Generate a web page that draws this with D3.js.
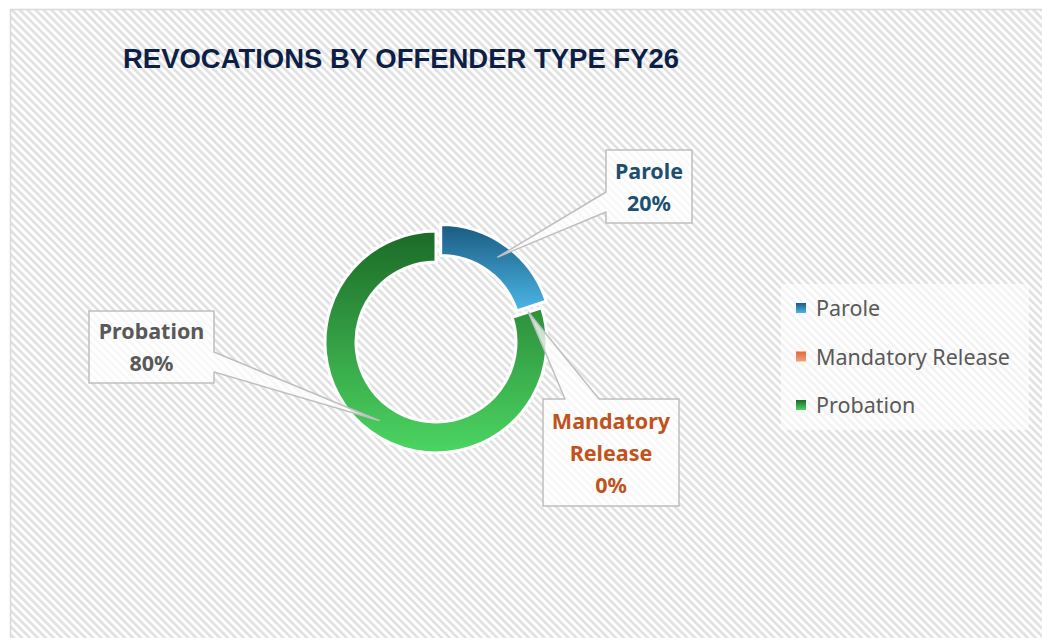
<!DOCTYPE html>
<html lang="en">
  <head>
    <meta charset="UTF-8" />
    <title>Revocations by Offender Type FY26</title>
    <style>
      body { margin: 0; background: #fff; }
      svg { display: block; }
    </style>
  </head>
  <body>
    <svg width="1042" height="638"></svg>

    <script src="https://cdn.jsdelivr.net/npm/d3@7/dist/d3.min.js"></script>
    <script>
      const categories = ["Parole", "Mandatory Release", "Probation"];
      const percents = [20, 0, 80];
      const labelLines = [["Parole", "20%"], ["Mandatory", "Release", "0%"], ["Probation", "80%"]];

      const colors = {
        Parole: ["#1a5b82", "#4cb6e6"],
        "Mandatory Release": ["#e0683a", "#f5a07a"],
        Probation: ["#1c6a27", "#4cd562"],
      };
      const labelColors = { Parole: "#1d4f6e", "Mandatory Release": "#c0531c", Probation: "#595959" };

      // hand placed callout boxes (like the original chart), wedge base on one side
      const callouts = {
        Parole: { x: 606, y: 150, w: 86, h: 73, side: "left", a: 42, b: 62 },
        "Mandatory Release": { x: 543, y: 399, w: 136, h: 107, side: "top", a: 22, b: 56 },
        Probation: { x: 89, y: 311, w: 125, h: 72, side: "right", a: 41, b: 61 },
      };

      const svg = d3.select("svg");
      const defs = svg.append("defs");

      const pat = defs.append("pattern")
        .attr("id", "stripes")
        .attr("patternUnits", "userSpaceOnUse")
        .attr("width", 5.6)
        .attr("height", 5.6)
        .attr("patternTransform", "rotate(-45)");
      pat.append("rect").attr("width", 5.6).attr("height", 5.6).attr("fill", "#ffffff");
      pat.append("rect").attr("width", 2.6).attr("height", 5.6).attr("fill", "#e0e0e0");

      categories.forEach((c, i) => {
        const g = defs.append("linearGradient")
          .attr("id", "grad" + i)
          .attr("x1", 0).attr("y1", 0).attr("x2", 0).attr("y2", 1);
        g.append("stop").attr("offset", "0%").attr("stop-color", colors[c][0]);
        g.append("stop").attr("offset", "100%").attr("stop-color", colors[c][1]);
      });

      // chart area
      svg.append("rect")
        .attr("x", 10.5).attr("y", 9.5)
        .attr("width", 1040).attr("height", 640)
        .attr("fill", "url(#stripes)")
        .attr("stroke", "#d9d9d9")
        .attr("stroke-width", 1.5);

      svg.append("text")
        .attr("x", 123)
        .attr("y", 68)
        .attr("font-family", "Liberation Sans, Arial, sans-serif")
        .attr("font-weight", "bold")
        .attr("font-size", 27.5)
        .attr("fill", "#0e1f47")
        .attr("textLength", 556)
        .attr("lengthAdjust", "spacingAndGlyphs")
        .text("REVOCATIONS BY OFFENDER TYPE FY26");

      // donut
      const cx = 436, cy = 342;
      const outerR = 111, innerR = 80;
      const explode = { Parole: 8 };

      const pie = d3.pie().sort(null).value(d => d.value);
      const arcs = pie(categories.map((c, i) => ({ name: c, value: percents[i], i })));
      const arc = d3.arc().innerRadius(innerR).outerRadius(outerR);

      const offset = d => {
        const e = explode[d.data.name] || 0;
        const m = (d.startAngle + d.endAngle) / 2;
        return [Math.sin(m) * e, -Math.cos(m) * e];
      };

      const donut = svg.append("g").attr("transform", `translate(${cx},${cy})`);
      donut.selectAll("path")
        .data(arcs.filter(d => d.value > 0))
        .join("path")
        .attr("transform", d => `translate(${offset(d)})`)
        .attr("d", arc)
        .attr("fill", d => `url(#grad${d.data.i})`)
        .attr("stroke", "#ffffff")
        .attr("stroke-width", 3);

      // callouts
      const tipR = 97;
      const calloutPath = (b, tip) => {
        const { x, y, w, h, side, a } = b;
        const x2 = x + w, y2 = y + h;
        const t = tip.join(",");
        if (side === "left")
          return `M${x},${y}H${x2}V${y2}H${x}V${y + b.b}L${t}L${x},${y + a}Z`;
        if (side === "right")
          return `M${x},${y}H${x2}V${y + a}L${t}L${x2},${y + b.b}V${y2}H${x}Z`;
        return `M${x},${y}H${x + a}L${t}L${x + b.b},${y}H${x2}V${y2}H${x}Z`;
      };

      const labels = svg.append("g");
      arcs.forEach((d, i) => {
        const name = d.data.name;
        const box = callouts[name];
        const m = (d.startAngle + d.endAngle) / 2;
        const off = offset(d);
        const tip = [cx + off[0] + Math.sin(m) * tipR, cy + off[1] - Math.cos(m) * tipR];

        labels.append("path")
          .attr("d", calloutPath(box, tip))
          .attr("fill", "rgba(255,255,255,0.75)")
          .attr("stroke", "#bfbfbf")
          .attr("stroke-width", 1.5)
          .attr("stroke-linejoin", "round");

        const lines = labelLines[i];
        const lh = 32;
        const firstBase = box.y + box.h / 2 - ((lines.length - 1) * lh) / 2 + 8;
        labels.append("text")
          .attr("text-anchor", "middle")
          .attr("font-family", "Noto Sans, sans-serif")
          .attr("font-weight", "bold")
          .attr("font-size", 21.5)
          .attr("fill", labelColors[name])
          .selectAll("tspan")
          .data(lines)
          .join("tspan")
          .attr("x", box.x + box.w / 2)
          .attr("y", (l, j) => firstBase + j * lh)
          .text(l => l);
      });

      // legend
      const legend = svg.append("g");
      legend.append("rect")
        .attr("x", 781).attr("y", 284)
        .attr("width", 248).attr("height", 146)
        .attr("fill", "rgba(255,255,255,0.6)");

      const legendY = d3.scalePoint().domain(categories).range([308, 405]);
      const item = legend.selectAll("g.item")
        .data(categories)
        .join("g")
        .attr("class", "item")
        .attr("transform", c => `translate(796,${legendY(c)})`);
      item.append("rect")
        .attr("x", 0).attr("y", -5)
        .attr("width", 10).attr("height", 10)
        .attr("fill", (c, i) => `url(#grad${i})`);
      item.append("text")
        .attr("x", 20)
        .attr("y", 8)
        .attr("font-family", "Noto Sans, sans-serif")
        .attr("font-size", 21.5)
        .attr("fill", "#595959")
        .text(c => c);
    </script>
  </body>
</html>
